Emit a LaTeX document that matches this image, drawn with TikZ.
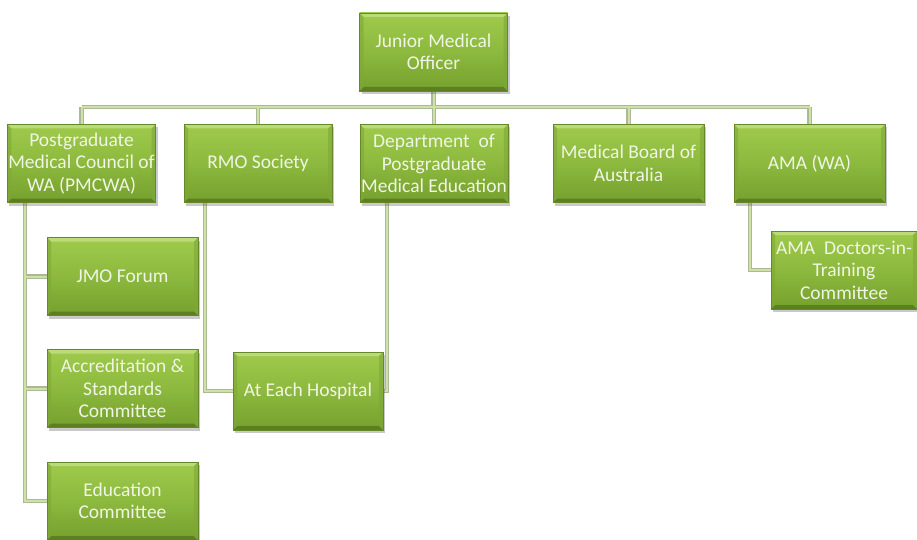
\documentclass[tikz,border=0pt]{standalone}
\usepackage{fontspec}
\setmainfont{Carlito}
\usetikzlibrary{shadows,backgrounds}
\definecolor{gtop}{HTML}{9FCA4C}
\definecolor{gmid}{HTML}{8CB93E}
\definecolor{gbot}{HTML}{75A02E}
\definecolor{gedge}{HTML}{65882A}
\definecolor{bvtop}{HTML}{BBDB78}
\definecolor{bvbot}{HTML}{5C7F22}
\definecolor{bvside}{HTML}{7FA836}
\definecolor{lnout}{HTML}{ADB896}
\definecolor{lnin}{HTML}{CDE2A4}
\definecolor{txt}{HTML}{F0F5E4}
\tikzset{
  orgbox/.style={rectangle, draw=gedge, line width=0.5pt,
    top color=gtop, bottom color=gbot, middle color=gmid,
    minimum width=148pt, minimum height=78pt, inner sep=1pt,
    align=center, text=txt,
    font=\fontsize{19.5}{22.5}\selectfont,
    drop shadow={shadow xshift=2pt, shadow yshift=-3pt, opacity=0.3, fill=black!70},
    path picture={
      \coordinate (nw) at (path picture bounding box.north west);
      \coordinate (ne) at (path picture bounding box.north east);
      \coordinate (sw) at (path picture bounding box.south west);
      \coordinate (se) at (path picture bounding box.south east);
      \fill[bvtop] (nw) -- (ne) -- ([shift={(-4pt,-4pt)}]ne) -- ([shift={(4pt,-4pt)}]nw) -- cycle;
      \fill[bvbot] (sw) -- (se) -- ([shift={(-4pt,4pt)}]se) -- ([shift={(4pt,4pt)}]sw) -- cycle;
      \fill[bvside,opacity=0.6] (nw) -- ([shift={(4pt,-4pt)}]nw) -- ([shift={(4pt,4pt)}]sw) -- (sw) -- cycle;
      \fill[bvside,opacity=0.6] (ne) -- ([shift={(-4pt,-4pt)}]ne) -- ([shift={(-4pt,4pt)}]se) -- (se) -- cycle;
    }},
  linkout/.style={draw=lnout, line width=4.5pt},
  linkin/.style={draw=lnin, line width=2pt}
}
\begin{document}
\begin{tikzpicture}[x=1pt,y=-1pt]
\useasboundingbox (0,0) rectangle (917,540);
\node[orgbox] (jmo) at (433.5,52) {Junior Medical\\Officer};
\node[orgbox, minimum width=145pt] (pm) at (81.5,163.5) {Postgraduate\\Medical Council of\\WA (PMCWA)};
\node[orgbox] (rmo) at (258,163.5) {RMO Society};
\node[orgbox, minimum width=146pt] (dept) at (434,163.5) {Department \ of\\Postgraduate\\Medical Education};
\node[orgbox, minimum width=151pt] (mba) at (628.5,163.5) {Medical Board of\\Australia};
\node[orgbox, minimum width=151pt] (ama) at (809.5,163.5) {AMA (WA)};
\node[orgbox, minimum width=151pt] (forum) at (122.5,276.5) {JMO Forum};
\node[orgbox, minimum width=151pt] (acc) at (122.5,388.5) {Accreditation \&\\Standards\\Committee};
\node[orgbox, minimum width=151pt] (edu) at (122.5,501) {Education\\Committee};
\node[orgbox, minimum width=150pt] (hosp) at (308,391) {At Each Hospital};
\node[orgbox, minimum width=146pt] (dit) at (844,270) {AMA \ Doctors-in-\\Training\\Committee};
\coordinate (bus) at (0,107);
\coordinate (pmL) at ([xshift=-56.5pt]pm.south);
\coordinate (rmoL) at ([xshift=21pt]rmo.south west);
\coordinate (deptL) at ([xshift=27pt]dept.south west);
\coordinate (amaL) at ([xshift=16pt]ama.south west);
\begin{scope}[on background layer]
\foreach \s in {linkout,linkin}{
  \path[\s] (jmo.south) -- (jmo.south |- bus);
  \path[\s] (pm.north |- bus) -- (ama.north |- bus);
  \foreach \n in {pm,rmo,dept,mba,ama}{
    \path[\s] (\n.north |- bus) -- (\n.north);
  }
  \path[\s] (pmL) |- (forum.west);
  \path[\s] (pmL) |- (acc.west);
  \path[\s] (pmL) |- (edu.west);
  \path[\s] (rmoL) |- (hosp.west);
  \path[\s] (deptL) |- (hosp.east);
  \path[\s] (amaL) |- (dit.west);
}
\end{scope}
\end{tikzpicture}
\end{document}
